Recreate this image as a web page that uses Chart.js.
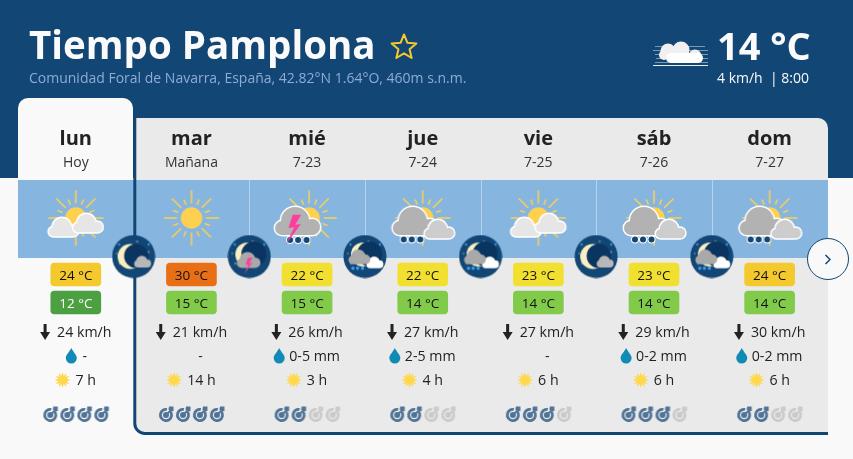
<!DOCTYPE html>
<html lang="es">
<head>
<meta charset="utf-8">
<title>Tiempo Pamplona</title>
<script src="https://cdn.jsdelivr.net/npm/chart.js@4/dist/chart.umd.min.js"></script>
<style>
    html, body { margin: 0; padding: 0; background: #f9f9f9; overflow: hidden; }
    canvas { display: block; }
</style>
</head>
<body>
<canvas id="forecast" width="853" height="459"></canvas>
<script>
// Forecast data
const days = ['lun', 'mar', 'mié', 'jue', 'vie', 'sáb', 'dom'];
const dates = ['Hoy', 'Mañana', '7-23', '7-24', '7-25', '7-26', '7-27'];
const maxTemps = [24, 30, 22, 22, 23, 23, 24];
const minTemps = [12, 15, 15, 14, 14, 14, 14];
const windSpeeds = [24, 21, 26, 27, 27, 29, 30];
const rainRanges = ['-', '-', '0-5 mm', '2-5 mm', '-', '0-2 mm', '0-2 mm'];
const rainDrops = [true, false, true, true, false, true, true];
const sunHours = [7, 14, 3, 4, 6, 6, 6];
const reliability = [4, 4, 2, 2, 3, 3, 2];
const dayIcons = ['sunClouds', 'sun', 'storm', 'rain', 'sunClouds', 'rain', 'rain'];
const nightIcons = ['clear', 'storm', 'rain', 'rain', 'clear', 'rain'];

// Row positions on the y axis
const ROW = { name: 145, date: 167, icon: 218, night: 256.5, max: [263, 286], min: [291, 314], wind: 332, rain: 356, sun: 380, rel: 414 };
const NAVY = '#124674';
const NIGHT = '#0a3560';
const PAGE = '#f9f9f9';
const FONT = '"Open Sans", "Noto Sans", sans-serif';

function newIcon(w, h, draw) {
    const c = document.createElement('canvas');
    c.width = w;
    c.height = h;
    const g = c.getContext('2d');
    g.translate(w / 2, h / 2);
    draw(g);
    return c;
}

// Icons
function drawSun(g, cx, cy) {
    g.strokeStyle = '#fdd14f';
    g.lineWidth = 1.5;
    g.lineCap = 'butt';
    for (let k = 0; k < 16; k++) {
        const a = k * Math.PI / 8;
        const to = k % 2 ? 20 : 27.7;
        g.beginPath();
        g.moveTo(cx + Math.cos(a) * 14.5, cy + Math.sin(a) * 14.5);
        g.lineTo(cx + Math.cos(a) * to, cy + Math.sin(a) * to);
        g.stroke();
    }
    g.fillStyle = '#fdd14f';
    g.beginPath();
    g.arc(cx, cy, 10.7, 0, Math.PI * 2);
    g.fill();
}

function cloudShape(g, x, y, s, grow) {
    g.beginPath();
    [[7, 21, 7], [20, 14, 14], [37, 20, 8]].forEach(([cx, cy, r]) => {
        g.moveTo(x + (cx + r) * s + grow, y + cy * s);
        g.arc(x + cx * s, y + cy * s, r * s + grow, 0, Math.PI * 2);
    });
    g.rect(x + 7 * s, y + 20 * s - grow, 30 * s, 8 * s + grow * 2);
    g.fill();
}

function drawCloud(g, x, y, s, fill, outline = '#fff') {
    g.fillStyle = outline;
    cloudShape(g, x, y, s, 1.5);
    g.fillStyle = fill;
    cloudShape(g, x, y, s, 0);
}

function drawBolt(g, dx, dy, s) {
    const pts = [[-6, -3.3], [-14.3, -3.3], [-18.7, 10], [-13, 9.3], [-21.3, 26.7], [-6.3, 6], [-12, 6.7]];
    g.fillStyle = '#ff3d9e';
    g.beginPath();
    pts.forEach(([x, y], n) => {
        const px = dx + x * s, py = dy + y * s;
        if (n === 0) g.moveTo(px, py); else g.lineTo(px, py);
    });
    g.closePath();
    g.fill();
}

function drawDots(g, xs, y, r, fill, outline) {
    xs.forEach(x => {
        if (outline) {
            g.fillStyle = outline;
            g.beginPath();
            g.arc(x, y, r + 1, 0, Math.PI * 2);
            g.fill();
        }
        g.fillStyle = fill;
        g.beginPath();
        g.arc(x, y, r, 0, Math.PI * 2);
        g.fill();
    });
}

const dayIconDraw = {
    sun: g => drawSun(g, 0, 0),
    sunClouds: g => {
        drawSun(g, 0, 0);
        drawCloud(g, -27, 0, 0.65, '#e6e6e6');
        drawCloud(g, -2.5, -4, 0.65, '#e6e6e6');
    },
    storm: g => {
        drawSun(g, 2, 0);
        drawCloud(g, -32, -11, 1, '#b2b2b2');
        drawDots(g, [-17, -9, -0.5], 22, 3, NAVY, '#fff');
        drawBolt(g, 0, 0, 1);
    },
    rain: g => {
        drawSun(g, 0, 0);
        drawCloud(g, -30, -11, 1, '#b2b2b2');
        drawCloud(g, 2, 2, 0.65, '#cdcdcd');
        drawDots(g, [-19, -11, -2.5], 21.5, 3, NAVY, '#fff');
    }
};

function drawStars(g) {
    [[-14.5, -12, '#3f8fdc'], [15, -12, '#3f8fdc'], [3.5, -15, '#5f7f9f'], [15, -4.5, '#5f7f9f'], [-14, 7, '#5f7f9f'], [-17, -3, '#3f6f9f']].forEach(([x, y, c]) => {
        g.fillStyle = c;
        g.beginPath();
        g.arc(x, y, 1.2, 0, Math.PI * 2);
        g.fill();
    });
}

function drawMoonDisc(g, cx, cy, r, dx, dr) {
    g.fillStyle = '#f9efc2';
    g.beginPath();
    g.arc(cx, cy, r, 0, Math.PI * 2);
    g.fill();
    g.fillStyle = NIGHT;
    g.beginPath();
    g.arc(cx + dx, cy - 0.5, dr, 0, Math.PI * 2);
    g.fill();
}

const nightIconDraw = {
    clear: g => {
        drawMoonDisc(g, -3.5, 0, 12.5, 6, 12);
        drawCloud(g, 2, 0.8, 0.31, '#b8b8b8', '#b8b8b8');
    },
    storm: g => {
        drawMoonDisc(g, -2, -2, 12, 6.5, 12.5);
        drawCloud(g, -11, -3, 0.46, '#a9a9a9', '#a9a9a9');
        drawBolt(g, 6.5, 3, 0.55);
    },
    rain: g => {
        drawMoonDisc(g, -2, -2, 12, 6.5, 12.5);
        drawCloud(g, 3, 1.5, 0.31, '#fff', '#fff');
        drawCloud(g, -15, -5.5, 0.42, '#a9a9a9', '#a9a9a9');
        drawDots(g, [-12, -7.4, -2.4], 11.7, 1.7, '#3f9cf0');
    }
};

function makeNightIcon(kind) {
    return newIcon(44, 44, g => {
        g.fillStyle = NAVY;
        g.beginPath();
        g.arc(0, 0, 21.5, 0, Math.PI * 2);
        g.fill();
        drawStars(g);
        nightIconDraw[kind](g);
    });
}

function makeRelIcon(color) {
    return newIcon(18, 18, g => {
        g.strokeStyle = color;
        g.lineWidth = 2.8;
        g.beginPath();
        g.arc(0, 1, 5.6, -0.2 * Math.PI, 1.55 * Math.PI);
        g.stroke();
        g.fillStyle = color;
        g.beginPath();
        g.arc(0, 1, 3, 0, Math.PI * 2);
        g.fill();
        g.lineWidth = 1.8;
        g.beginPath();
        g.moveTo(0, 1);
        g.lineTo(5.5, -4.5);
        g.stroke();
        g.beginPath();
        g.moveTo(2.5, -4.5);
        g.lineTo(3, -7.5);
        g.lineTo(7.5, -7.5);
        g.lineTo(7.5, -3);
        g.lineTo(4.5, -2.5);
        g.closePath();
        g.fill();
    });
}

function tempColor(t) {
    if (t >= 28) return '#e96f17';
    if (t >= 24) return '#f4c92e';
    if (t >= 18) return '#f2e030';
    if (t >= 13) return '#82cb4a';
    return '#4ca042';
}

const relOn = makeRelIcon('#517496');
const relOff = makeRelIcon('#cbcbcb');

// Drawing helpers
function label(ctx, text, x, y, font, color, align = 'center') {
    ctx.font = font;
    ctx.fillStyle = color;
    ctx.textAlign = align;
    ctx.textBaseline = 'alphabetic';
    ctx.fillText(text, x, y);
}

function smallDrop(ctx, x, y) {
    ctx.fillStyle = '#0f8bb5';
    ctx.beginPath();
    ctx.moveTo(x, y - 8);
    ctx.bezierCurveTo(x + 2, y - 4, x + 5.5, y - 1, x + 5.5, y + 2);
    ctx.arc(x, y + 2, 5.5, 0, Math.PI);
    ctx.bezierCurveTo(x - 5.5, y - 1, x - 2, y - 4, x, y - 8);
    ctx.fill();
}

function smallArrow(ctx, x, y) {
    ctx.fillStyle = '#222';
    ctx.beginPath();
    ctx.moveTo(x - 1.5, y - 8);
    ctx.lineTo(x + 1.5, y - 8);
    ctx.lineTo(x + 1.5, y);
    ctx.lineTo(x + 5, y);
    ctx.lineTo(x, y + 8);
    ctx.lineTo(x - 5, y);
    ctx.lineTo(x - 1.5, y);
    ctx.closePath();
    ctx.fill();
}

function smallSun(ctx, x, y) {
    ctx.fillStyle = '#ffd84d';
    ctx.beginPath();
    for (let k = 0; k < 24; k++) {
        const a = k * Math.PI / 12;
        const r = k % 2 ? 4.5 : 8;
        ctx.lineTo(x + Math.cos(a) * r, y + Math.sin(a) * r);
    }
    ctx.closePath();
    ctx.fill();
}

function star(ctx, cx, cy, r) {
    ctx.strokeStyle = '#f4c92e';
    ctx.lineWidth = 2;
    ctx.lineJoin = 'round';
    ctx.beginPath();
    for (let k = 0; k < 10; k++) {
        const a = -Math.PI / 2 + k * Math.PI / 5;
        const rr = k % 2 ? r * 0.45 : r;
        ctx.lineTo(cx + Math.cos(a) * rr, cy + Math.sin(a) * rr);
    }
    ctx.closePath();
    ctx.stroke();
}

function fogCloud(ctx) {
    ctx.strokeStyle = 'rgba(255,255,255,0.45)';
    ctx.lineWidth = 1;
    [[655, 705, 46], [653, 708, 50], [655, 708, 54], [656, 708, 58], [655, 708, 62]].forEach(([a, b, y]) => {
        ctx.beginPath();
        ctx.moveTo(a, y + 0.5);
        ctx.lineTo(b, y + 0.5);
        ctx.stroke();
    });
    ctx.strokeStyle = '#e8eef4';
    ctx.beginPath();
    ctx.moveTo(653, 65.5);
    ctx.lineTo(708, 65.5);
    ctx.stroke();
    ctx.fillStyle = '#f0f0f0';
    [[668, 51, 7.5], [681, 50, 8.5], [695, 56, 6.5], [664, 55, 5]].forEach(([x, y, r]) => {
        ctx.beginPath();
        ctx.arc(x, y, r, 0, Math.PI * 2);
        ctx.fill();
    });
    ctx.fillStyle = '#fff';
    ctx.beginPath();
    ctx.roundRect(666, 53, 37, 10, 5);
    ctx.fill();
}

// Page panels behind the marks
const panelsPlugin = {
    id: 'panels',
    beforeDatasetsDraw(chart) {
        const { ctx, scales: { x } } = chart;
        ctx.save();
        ctx.fillStyle = PAGE;
        ctx.fillRect(0, 0, 853, 459);
        ctx.fillStyle = NAVY;
        ctx.fillRect(0, 0, 853, 178);
        ctx.fillStyle = PAGE;
        ctx.beginPath();
        ctx.roundRect(18, 98, 115, 90, [10, 10, 0, 0]);
        ctx.fill();
        ctx.fillStyle = '#eaeaea';
        ctx.beginPath();
        ctx.roundRect(134.5, 118, 693.5, 315, [0, 10, 0, 10]);
        ctx.fill();
        ctx.fillStyle = '#86b5e0';
        ctx.fillRect(18, 180, 810, 78);
        ctx.strokeStyle = NAVY;
        ctx.lineWidth = 3;
        ctx.beginPath();
        ctx.moveTo(134.8, 116);
        ctx.lineTo(134.8, 423);
        ctx.arcTo(134.8, 433.4, 145, 433.4, 10);
        ctx.lineTo(828, 433.4);
        ctx.stroke();
        ctx.strokeStyle = 'rgba(255,255,255,0.4)';
        ctx.lineWidth = 1;
        days.slice(1, -1).forEach((d, i) => {
            const px = Math.round(x.getPixelForValue(i + 1.5)) + 0.5;
            ctx.beginPath();
            ctx.moveTo(px, 180);
            ctx.lineTo(px, 238);
            ctx.stroke();
        });
        ctx.restore();
    }
};

// All text and the small glyphs of each row
const textPlugin = {
    id: 'forecastText',
    afterDatasetsDraw(chart) {
        const { ctx, scales: { x, y } } = chart;
        ctx.save();
        label(ctx, 'Tiempo Pamplona', 29, 59, `700 38.5px ${FONT}`, '#fafafa', 'left');
        star(ctx, 404, 47.5, 13);
        label(ctx, 'Comunidad Foral de Navarra, España, 42.82°N 1.64°O, 460m s.n.m.', 29, 83, `14px ${FONT}`, '#8fabd6', 'left');
        fogCloud(ctx);
        label(ctx, '14 °C', 717, 60, `700 38px ${FONT}`, '#fafafa', 'left');
        label(ctx, '4 km/h  | 8:00', 717, 83, `14px ${FONT}`, '#fafafa', 'left');

        days.forEach((day, i) => {
            const cx = x.getPixelForValue(i);
            label(ctx, day, cx, y.getPixelForValue(ROW.name), `700 20px ${FONT}`, '#222');
            label(ctx, dates[i], cx, y.getPixelForValue(ROW.date), `14px ${FONT}`, '#333');

            const dark = minTemps[i] < 13;
            label(ctx, `${maxTemps[i]} °C`, cx, y.getPixelForValue(279.5), `13.5px ${FONT}`, '#111');
            label(ctx, `${minTemps[i]} °C`, cx, y.getPixelForValue(307.5), `13.5px ${FONT}`, dark ? '#fff' : '#111');

            const rowFont = `14.2px ${FONT}`;
            const base = 5;
            ctx.font = rowFont;
            const windText = `${windSpeeds[i]} km/h`;
            let w = ctx.measureText(windText).width + 17;
            smallArrow(ctx, cx - w / 2 + 5, y.getPixelForValue(ROW.wind));
            label(ctx, windText, cx - w / 2 + 17, y.getPixelForValue(ROW.wind) + base, rowFont, '#222', 'left');

            const rainY = y.getPixelForValue(ROW.rain);
            if (rainRanges[i] === '-') {
                if (rainDrops[i]) smallDrop(ctx, cx - 4.5, rainY);
                label(ctx, '-', cx + 9, rainY + base, rowFont, '#222');
            } else {
                w = ctx.measureText(rainRanges[i]).width + 15;
                smallDrop(ctx, cx - w / 2 + 5, rainY);
                label(ctx, rainRanges[i], cx - w / 2 + 15, rainY + base, rowFont, '#222', 'left');
            }

            const sunY = y.getPixelForValue(ROW.sun);
            const sunText = `${sunHours[i]} h`;
            ctx.font = rowFont;
            w = ctx.measureText(sunText).width + 20;
            smallSun(ctx, cx - w / 2 + 7, sunY);
            label(ctx, sunText, cx - w / 2 + 20, sunY + base, rowFont, '#222', 'left');
        });

        // Next button at the panel edge
        ctx.fillStyle = PAGE;
        ctx.strokeStyle = NAVY;
        ctx.lineWidth = 1;
        ctx.beginPath();
        ctx.arc(828, 259, 20.5, 0, Math.PI * 2);
        ctx.fill();
        ctx.stroke();
        ctx.lineWidth = 1.5;
        ctx.beginPath();
        ctx.moveTo(825.5, 255);
        ctx.lineTo(830, 259.5);
        ctx.lineTo(825.5, 264);
        ctx.stroke();
        ctx.restore();
    }
};

// Datasets
const relPoints = [];
const relStyles = [];
reliability.forEach((score, i) => {
    for (let k = 0; k < 4; k++) {
        relPoints.push({ x: i + (k - 1.5) * 0.147, y: ROW.rel });
        relStyles.push(k < score ? relOn : relOff);
    }
});

new Chart(document.getElementById('forecast'), {
    data: {
        datasets: [
            {
                type: 'bar',
                label: 'Máxima',
                data: maxTemps.map((t, i) => ({ x: i, y: ROW.max })),
                backgroundColor: maxTemps.map(tempColor),
                barThickness: 50,
                borderRadius: 4,
                borderSkipped: false,
                grouped: false
            },
            {
                type: 'bar',
                label: 'Mínima',
                data: minTemps.map((t, i) => ({ x: i, y: ROW.min })),
                backgroundColor: minTemps.map(tempColor),
                barThickness: 50,
                borderRadius: 4,
                borderSkipped: false,
                grouped: false
            },
            {
                type: 'scatter',
                label: 'Día',
                data: dayIcons.map((n, i) => ({ x: i, y: ROW.icon })),
                pointStyle: dayIcons.map(n => newIcon(70, 64, dayIconDraw[n]))
            },
            {
                type: 'scatter',
                label: 'Noche',
                data: nightIcons.map((n, i) => ({ x: i + 0.5, y: ROW.night })),
                pointStyle: nightIcons.map(makeNightIcon)
            },
            {
                type: 'scatter',
                label: 'Fiabilidad',
                data: relPoints,
                pointStyle: relStyles
            }
        ]
    },
    options: {
        responsive: false,
        animation: false,
        devicePixelRatio: 1,
        layout: { padding: 0, autoPadding: false },
        plugins: { legend: { display: false }, tooltip: { enabled: false } },
        scales: {
            x: { type: 'linear', display: false, offset: false, bounds: 'data', min: -0.6555, max: 6.7210 },
            y: { type: 'linear', display: false, bounds: 'data', min: 0, max: 459, reverse: true }
        }
    },
    plugins: [panelsPlugin, textPlugin]
});
</script>
</body>
</html>
